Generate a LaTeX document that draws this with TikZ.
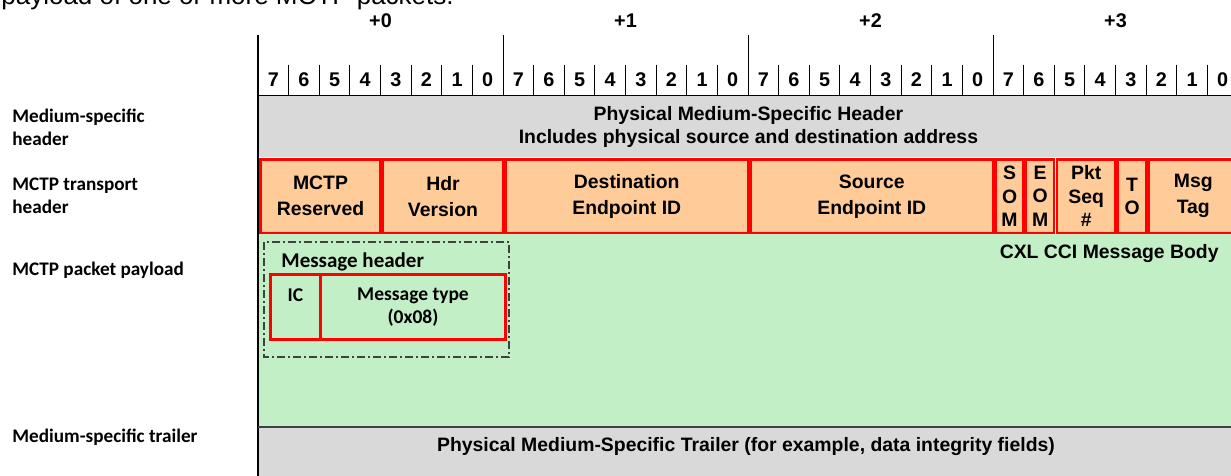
\documentclass[tikz,border=0pt]{standalone}
\usepackage{fontspec}
\setmainfont{Liberation Sans}
\newfontfamily\calfont{Carlito}
\usepackage{xcolor}
\usepackage{tikz}
\usetikzlibrary{positioning}
\pgfdeclarelayer{nodelayer}
\pgfdeclarelayer{edgelayer}
\pgfsetlayers{nodelayer,edgelayer,main}
\definecolor{hdrgray}{HTML}{D9D9D9}
\definecolor{mctporange}{HTML}{FFCC99}
\definecolor{bodygreen}{HTML}{C3EFC6}
\definecolor{framegray}{HTML}{404040}
\tikzset{
    none/.style = {inner sep=0pt},
    band/.style = {inner sep=0pt, anchor=north west, minimum width=490pt, align=center,
                   font=\bfseries\fontsize{9.7}{11.5}\selectfont},
    field/.style = {draw=red, line width=1.25pt, fill=mctporange, inner sep=0pt,
                    anchor=north west, minimum height=36.75pt, align=center,
                    font=\bfseries\fontsize{9.7}{13}\selectfont},
    narrow/.style = {field, font=\bfseries\fontsize{9.7}{11.75}\selectfont},
    msgfield/.style = {draw=red, line width=1.5pt, inner sep=0pt, anchor=north west,
                       minimum height=32.5pt, align=center,
                       font=\calfont\bfseries\fontsize{9.75}{11.5}\selectfont},
    bitnum/.style = {inner sep=0pt, font=\bfseries\fontsize{9.9}{11}\selectfont},
    rowlabel/.style = {inner sep=0pt, anchor=west, align=left,
                       font=\calfont\bfseries\fontsize{9.6}{11.5}\selectfont}
}

\begin{document}
\begin{tikzpicture}[x=0.5pt, y=-0.5pt]
  \useasboundingbox (0,0) rectangle (1231,476);
  \begin{pgfonlayer}{nodelayer}
    \node [band, fill=hdrgray, minimum height=30.5pt] (0) at (258, 96)
      {Physical Medium-Specific Header\\Includes physical source and destination address};
    \node [band, fill=bodygreen, minimum height=97pt] (1) at (258, 233) {};
    \node [band, fill=hdrgray, minimum height=27pt] (2) at (258, 427) {};
    \node [style=none, font=\fontsize{13}{15}\selectfont, anchor=base west] (3) at (1, 5)
      {payload of one or more MCTP packets.};
    \node [style=none, font=\bfseries\fontsize{9.7}{11}\selectfont] (4) at (746, 447)
      {Physical Medium-Specific Trailer (for example, data integrity fields)};
    \node [style=none, anchor=east, font=\bfseries\fontsize{9.7}{11}\selectfont] (5) at (1219, 254)
      {CXL CCI Message Body};
    \node [style=none, anchor=west, font=\calfont\bfseries\fontsize{10.5}{12}\selectfont] (6) at (281, 262)
      {Message header};
    \node [rowlabel] (7) at (12, 127.5) {Medium-specific\\header};
    \node [rowlabel] (8) at (12, 195.5) {MCTP transport\\header};
    \node [rowlabel] (9) at (12, 270) {MCTP packet payload};
    \node [rowlabel] (10) at (12, 437) {Medium-specific trailer};
    \foreach \n in {0,...,3}
      \node [bitnum] (byte\n) at ({380.5+245*\n}, 21) {+\n};
    \foreach \k in {0,...,31} {
      \pgfmathtruncatemacro\bit{7-mod(\k,8)}
      \node [bitnum] (bit\k) at ({258+30.625*(\k+0.5)}, 80) {\bit};
    }
  \end{pgfonlayer}
  \begin{pgfonlayer}{edgelayer}
    \foreach \k in {1,...,31}
      \draw [line width=0.5pt] ({258+30.625*\k}, 65) -- ({258+30.625*\k}, 96);
    \foreach \k in {1,...,3}
      \draw [line width=0.5pt] ({258+245*\k}, 35) -- ({258+245*\k}, 96);
    \draw [line width=0.6pt] (258, 35) -- (258, 480);
    \draw [line width=0.5pt] (258, 96) -- (1240, 96);
    \draw [framegray, line width=1pt] (258, 427) -- (1240, 427);
    \draw [framegray, line width=0.75pt, dash pattern=on 4pt off 1.5pt on 1pt off 1.5pt]
      (264, 242) rectangle (509, 357);
  \end{pgfonlayer}
  % MCTP transport header fields
  \node [field, minimum width=60pt] (11) at (259.25, 158.25) {MCTP\\Reserved};
  \node [field, minimum width=60pt] (12) at (381.75, 158.25) {Hdr\\Version};
  \node [field, minimum width=121.25pt] (13) at (504.25, 158.25) {Destination\\Endpoint ID};
  \node [field, minimum width=121.25pt] (14) at (749.25, 158.25) {Source\\Endpoint ID};
  \node [narrow, minimum width=14.05pt] (15) at (994.25, 158.25) {S\\O\\M};
  \node [narrow, minimum width=14.05pt] (16) at (1024.85, 158.25) {E\\O\\M};
  \node [narrow, minimum width=29.4pt] (17) at (1055.5, 158.25) {Pkt\\Seq\\\#};
  \node [narrow, minimum width=14.05pt] (18) at (1116.75, 158.25) {T\\O};
  \node [field, minimum width=44.7pt] (19) at (1147.35, 158.25) {Msg\\Tag};
  % message header fields
  \node [msgfield, minimum width=25pt] (20) at (269, 273) {IC\\~};
  \node [msgfield, minimum width=92.5pt] (21) at (319, 273) {Message type\\(0x08)};
\end{tikzpicture}
\end{document}
